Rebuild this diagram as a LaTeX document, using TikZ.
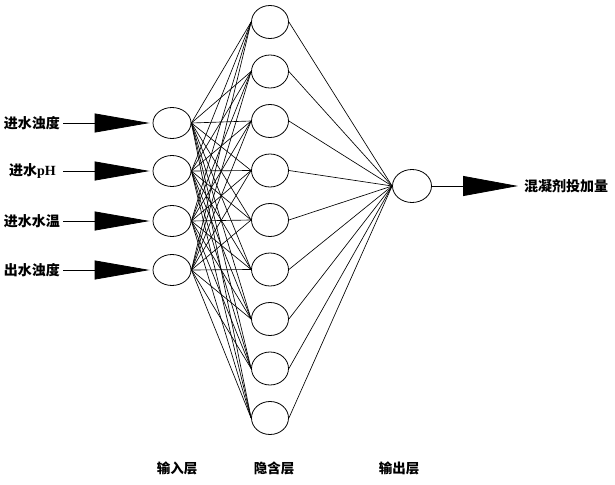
\documentclass[tikz,border=0pt]{standalone}
\usepackage{fontspec}
\setmainfont{Liberation Serif}
\newfontfamily\cjk{Noto Sans CJK SC}
\usetikzlibrary{shapes.geometric,arrows.meta}
\begin{document}
\begin{tikzpicture}[x=1pt,y=-1pt,
  neuron/.style={draw,ellipse,line width=0.8pt,inner sep=0pt,minimum width=38pt,minimum height=31pt},
  link/.style={line width=0.65pt},
  feed/.style={line width=0.8pt,-{Triangle[length=55pt,width=19pt]}},
  lab/.style={inner sep=0pt,font=\fontsize{14pt}{16pt}\selectfont\cjk\bfseries},
  layerlab/.style={inner sep=0pt,font=\fontsize{13.5pt}{16pt}\selectfont\cjk\bfseries}]
\useasboundingbox (0,0) rectangle (615,484);
% input layer
\foreach \i/\y in {1/123,2/171,3/221,4/270}{
  \node[neuron] (in\i) at (172,\y) {};
}
% hidden layer
\foreach \j in {1,...,9}{
  \pgfmathsetmacro{\yy}{22+49.5*(\j-1)}
  \node[neuron,minimum height=33pt,minimum width=37pt] (h\j) at (270,\yy) {};
}
% output
\node[neuron,minimum width=39pt,minimum height=33pt] (out) at (412,186) {};
% connections
\foreach \i in {1,...,4}{
  \foreach \j in {1,...,9}{
    \draw[link] (in\i.east) -- (h\j.west);
  }
}
\foreach \j in {1,...,9}{
  \draw[link] (h\j.east) -- (out.west);
}
% input labels and arrows
\node[lab,anchor=east] (l1) at (60,123) {进水浊度};
\node[lab,anchor=east] (l2) at (56,171) {进水{\rmfamily\bfseries pH}};
\node[lab,anchor=east] (l3) at (60,221) {进水水温};
\node[lab,anchor=east] (l4) at (60,270) {出水浊度};
\foreach \i/\y in {1/123,2/171,3/221,4/270}{
  \coordinate (s\i) at (63,\y);
  \draw[feed,shorten >=3pt] (s\i) -- (in\i.west);
}
% output arrow and label
\coordinate (e) at (518,186);
\draw[line width=0.8pt,-{Triangle[length=55pt,width=20pt]}] (out.east) -- (e);
\node[lab,anchor=west] (ol) at (524,186) {混凝剂投加量};
% layer labels
\node[layerlab] (L1) at (177,468) {输入层};
\node[layerlab] (L2) at (274,468) {隐含层};
\node[layerlab] (L3) at (399,468) {输出层};
\end{tikzpicture}
\end{document}
